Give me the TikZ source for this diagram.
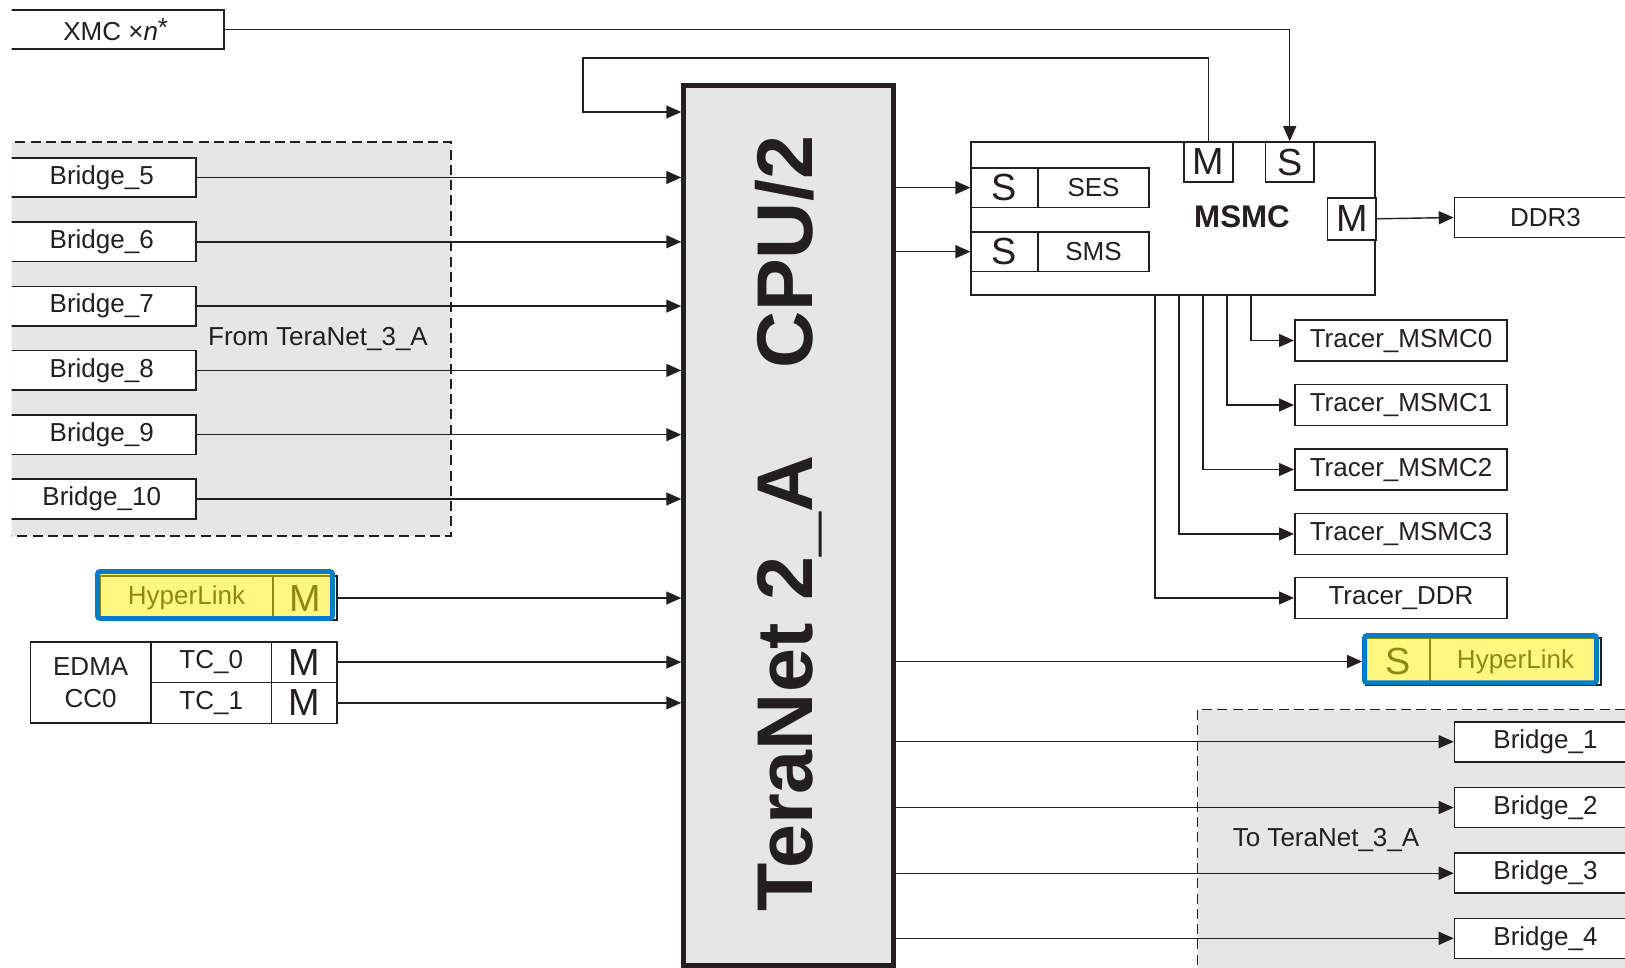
\documentclass[tikz,border=0pt]{standalone}
\usepackage{fontspec}
\setmainfont{Liberation Sans}
\usepackage{tikz}
\usetikzlibrary{arrows.meta, positioning}

\definecolor{panelgray}{RGB}{230,230,230}
\definecolor{hlblue}{RGB}{0,125,197}
\definecolor{ink}{RGB}{35,31,32}
\newcommand{\boxfont}{\fontsize{14.8}{18}\selectfont}
\newcommand{\portfont}{\fontsize{21.5}{24}\selectfont}

\tikzset{
  cellbox/.style={draw=ink, line width=0.9pt, fill=white, inner sep=0pt, text=ink, font=\boxfont},
  bridgeL/.style={cellbox, minimum width=3.78cm, minimum height=0.79cm, anchor=east},
  bridgeR/.style={cellbox, minimum width=3.64cm, minimum height=0.8cm, anchor=west},
  tracerbox/.style={cellbox, minimum width=4.25cm, minimum height=0.82cm},
  portbox/.style={cellbox, font=\portfont},
  wire/.style={draw=ink, line width=0.8pt, -{Triangle[length=0.3cm,width=0.26cm]}},
  dashline/.style={draw=ink, line width=1pt, dash pattern=on 5.7pt off 3pt},
  hlframe/.style={draw=hlblue, line width=2.8pt, fill=yellow, fill opacity=0.5, draw opacity=1, rounded corners=1.5pt, inner sep=0pt},
}

\begin{document}
\begin{tikzpicture}[x=0.02cm, y=-0.02cm]
  \useasboundingbox (0,0) rectangle (1625,967);
  \clip (11.5,0) rectangle (1625,967);

  % grey panels
  \fill[panelgray] (0,142) rectangle (451,536);
  \draw[dashline] (0,142) -- (451,142) -- (451,536) -- (0,536);
  \fill[panelgray] (1197.5,709.5) rectangle (1640,980);
  \draw[dashline] (1197.5,980) -- (1197.5,709.5) -- (1640,709.5);

  % switch fabric
  \node[draw=ink, line width=2.6pt, fill=panelgray, minimum width=4.2cm, minimum height=17.6cm] (tn) at (788.5,525.5) {};
  \node[rotate=90, text=ink, font=\bfseries\fontsize{45}{50}\selectfont] (tnlabel) at ([yshift=0.04cm]tn.center) {TeraNet 2\_A\hspace{1.74cm}CPU/2};

  % masters on the left
  \node[cellbox, minimum width=4.34cm, minimum height=0.77cm, anchor=east] (xmc) at (225,29.5) {XMC ×\textit{n}\raisebox{0.15em}{*}};
  \node[bridgeL] (b5) at (197,177.5) {Bridge\_5};
  \node[bridgeL] (b6) at (197,241.8) {Bridge\_6};
  \node[bridgeL] (b7) at (197,306.1) {Bridge\_7};
  \node[bridgeL] (b8) at (197,370.4) {Bridge\_8};
  \node[bridgeL] (b9) at (197,434.7) {Bridge\_9};
  \node[bridgeL] (b10) at (197,499) {Bridge\_10};
  \node[text=ink, font=\boxfont] (fromlabel) at (318,339) {From TeraNet\_3\_A};

  \node[cellbox, minimum width=3.46cm, minimum height=0.88cm] (hlLname) at (186.5,598) {HyperLink};
  \node[portbox, minimum width=1.28cm, minimum height=0.88cm] (hlLM) at (305,598) {M};

  \node[cellbox, minimum width=2.41cm, minimum height=1.63cm, align=center] (edma) at (90.7,682.5) {EDMA\\CC0};
  \node[cellbox, minimum width=2.41cm, minimum height=0.816cm] (tc0) at (211.2,662.1) {TC\_0};
  \node[cellbox, minimum width=2.41cm, minimum height=0.816cm] (tc1) at (211.2,702.9) {TC\_1};
  \node[portbox, minimum width=1.31cm, minimum height=0.816cm] (m0) at (304.2,662.1) {M};
  \node[portbox, minimum width=1.31cm, minimum height=0.816cm] (m1) at (304.2,702.9) {M};

  % shared memory controller
  \node[cellbox, minimum width=8.08cm, minimum height=3.06cm] (msmc) at (1173,218.5) {};
  \node[text=ink, font=\bfseries\fontsize{17.8}{20}\selectfont] (msmclabel) at (1242,217) {MSMC};
  \node[portbox, minimum width=1.33cm, minimum height=0.786cm] (sS1) at (1004.5,187.7) {S};
  \node[cellbox, minimum width=2.22cm, minimum height=0.786cm] (ses) at (1093.5,187.7) {SES};
  \node[portbox, minimum width=1.33cm, minimum height=0.786cm] (sS2) at (1004.5,251.7) {S};
  \node[cellbox, minimum width=2.22cm, minimum height=0.786cm] (sms) at (1093.5,251.7) {SMS};
  \node[portbox, minimum width=0.99cm, minimum height=0.8cm] (mTop) at (1208.5,162) {M};
  \node[portbox, minimum width=0.97cm, minimum height=0.8cm] (sTop) at (1289.7,162) {S};
  \node[portbox, minimum width=0.97cm, minimum height=0.84cm] (mRight) at (1351.8,218.8) {M};
  \node[bridgeR, minimum height=0.8cm] (ddr) at (1453.7,217.5) {DDR3};

  % tracers
  \node[tracerbox] (tr0) at (1401,340.5) {Tracer\_MSMC0};
  \node[tracerbox] (tr1) at (1401,405) {Tracer\_MSMC1};
  \node[tracerbox] (tr2) at (1401,469.5) {Tracer\_MSMC2};
  \node[tracerbox] (tr3) at (1401,534) {Tracer\_MSMC3};
  \node[tracerbox] (trD) at (1401,598) {Tracer\_DDR};

  % slaves on the right
  \node[portbox, minimum width=1.28cm, minimum height=0.94cm] (hlRS) at (1398,661.5) {S};
  \node[cellbox, minimum width=3.42cm, minimum height=0.94cm] (hlRname) at (1515.5,661.5) {HyperLink};
  \node[bridgeR] (b1) at (1453.7,741.7) {Bridge\_1};
  \node[bridgeR] (b2) at (1453.7,807.5) {Bridge\_2};
  \node[bridgeR] (b3) at (1453.7,873.2) {Bridge\_3};
  \node[bridgeR] (b4) at (1453.7,938.3) {Bridge\_4};
  \node[text=ink, font=\boxfont] (tolabel) at (1326,840) {To TeraNet\_3\_A};

  % highlight frames
  \node[hlframe, minimum width=4.7cm, minimum height=0.94cm] (hlL) at (215,595) {};
  \node[hlframe, minimum width=4.64cm, minimum height=0.95cm] (hlR) at (1480.5,659.2) {};

  % connections into the fabric
  \coordinate (loopTop) at (583,58);
  \coordinate (loopIn) at (583,112);
  \draw[wire] (mTop.north) |- (loopTop) -- (loopIn) -- (loopIn -| tn.west);
  \draw[wire] (xmc.east) -| (sTop.north);
  \draw[wire] (b5.east) -- (b5.east -| tn.west);
  \draw[wire] (b6.east) -- (b6.east -| tn.west);
  \draw[wire] (b7.east) -- (b7.east -| tn.west);
  \draw[wire] (b8.east) -- (b8.east -| tn.west);
  \draw[wire] (b9.east) -- (b9.east -| tn.west);
  \draw[wire] (b10.east) -- (b10.east -| tn.west);
  \draw[wire] (hlLM.east) -- (hlLM.east -| tn.west);
  \draw[wire] (m0.east) -- (m0.east -| tn.west);
  \draw[wire] (m1.east) -- (m1.east -| tn.west);

  % connections out of the fabric
  \draw[wire] (tn.east |- sS1.west) -- (sS1.west);
  \draw[wire] (tn.east |- sS2.west) -- (sS2.west);
  \draw[wire] (mRight.east) -- (ddr.west);
  \draw[wire] (tn.east |- hlRS.west) -- (hlRS.west -| hlR.west);
  \draw[wire] (tn.east |- b1.west) -- (b1.west);
  \draw[wire] (tn.east |- b2.west) -- (b2.west);
  \draw[wire] (tn.east |- b3.west) -- (b3.west);
  \draw[wire] (tn.east |- b4.west) -- (b4.west);

  % tracer taps
  \draw[wire] ([xshift=1.56cm]msmc.south) |- (tr0.west);
  \draw[wire] ([xshift=1.08cm]msmc.south) |- (tr1.west);
  \draw[wire] ([xshift=0.6cm]msmc.south) |- (tr2.west);
  \draw[wire] ([xshift=0.12cm]msmc.south) |- (tr3.west);
  \draw[wire] ([xshift=-0.36cm]msmc.south) |- (trD.west);
\end{tikzpicture}
\end{document}
